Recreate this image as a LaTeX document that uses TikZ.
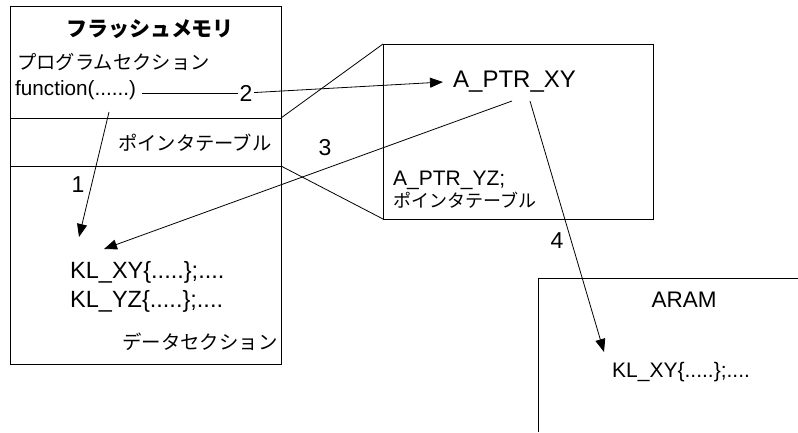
\documentclass[tikz,border=0pt]{standalone}
\usepackage{fontspec}
\setmainfont{Liberation Sans}
\newfontfamily\jp{Noto Sans CJK JP}
\usetikzlibrary{arrows.meta}
\begin{document}
\begin{tikzpicture}[x=1pt,y=-1pt,
  frame/.style={draw=black, line width=0.9pt},
  box/.style={frame, anchor=north west, inner sep=0pt, outer sep=0pt},
  link/.style={draw=black, line width=0.8pt},
  ptr/.style={link, -{Triangle[length=13pt,width=10pt]}},
  lat/.style={inner sep=0pt, anchor=base west, font=\fontsize{#1pt}{#1pt}\selectfont},
  jpt/.style={inner sep=0pt, anchor=west, font=\jp\fontsize{#1pt}{#1pt}\selectfont},
  num/.style={inner sep=1.5pt, font=\fontsize{23pt}{23pt}\selectfont}]
  \useasboundingbox[fill=white] (0,0) rectangle (798,432);

  % memory blocks
  \node[box, minimum width=271pt, minimum height=358pt] (flash) at (10,6) {};
  \node[box, minimum width=270pt, minimum height=175pt] (ptab) at (383,44) {};
  \coordinate (ramcorner) at (538,278);
  \draw[frame] (538,432) -- (ramcorner) -- (798,278);

  % section dividers of the flash block and the zoom-out lines
  \coordinate (d1) at (281,118);
  \coordinate (d2) at (281,166);
  \draw[frame] (flash.west |- d1) -- (d1);
  \draw[frame] (flash.west |- d2) -- (d2);
  \draw[link] (d1) -- (ptab.north west);
  \draw[link] (d2) -- (ptab.south west);

  % flash block texts
  \node[inner sep=0pt, font=\jp\bfseries\fontsize{21pt}{21pt}\selectfont] (title) at (150,29) {フラッシュメモリ};
  \node[jpt=19.3] (prog) at (17,62) {プログラムセクション};
  \node[lat=20.7] (func) at (15,95) {function(......)};
  \node[jpt=19.3] (ptl) at (118,143) {ポインタテーブル};
  \node[lat=23.5] (klxy) at (70,278) {KL\_XY\{.....\};....};
  \node[lat=23.5] (klyz) at (70,307) {KL\_YZ\{.....\};....};
  \node[jpt=19.4] (data) at (122,342) {データセクション};

  % pointer table texts
  \node[lat=24] (aptrxy) at (453,87) {A\_PTR\_XY};
  \node[lat=21] (aptryz) at (393,185) {A\_PTR\_YZ;};
  \node[jpt=18] (ptr) at (393,200) {ポインタテーブル};

  % ARAM texts
  \node[inner sep=0pt, anchor=base, font=\fontsize{22.5pt}{22.5pt}\selectfont] (aram) at (684,307) {ARAM};
  \node[lat=21] (ramxy) at (612,377) {KL\_XY\{.....\};....};

  % connector end points
  \coordinate (s1) at (109,112);
  \coordinate (e1) at (79,237);
  \coordinate (s2) at (142,93);
  \coordinate (e2) at (443,82);
  \coordinate (s3) at (512,101);
  \coordinate (e3) at (104,249);
  \coordinate (s4) at (530,101);
  \coordinate (e4) at (604,352);

  % step numbers
  \node[num] (one) at (78,185) {1};
  \node[num] (two) at (246,93) {2};
  \node[num] (three) at (325,148) {3};
  \node[num] (four) at (557,241) {4};

  % access steps
  \draw[ptr] (s1) -- (e1);
  \draw[link] (s2) -- (two);
  \draw[ptr] (two) -- (e2);
  \draw[ptr] (s3) -- (e3);
  \draw[ptr] (s4) -- (e4);
\end{tikzpicture}
\end{document}
